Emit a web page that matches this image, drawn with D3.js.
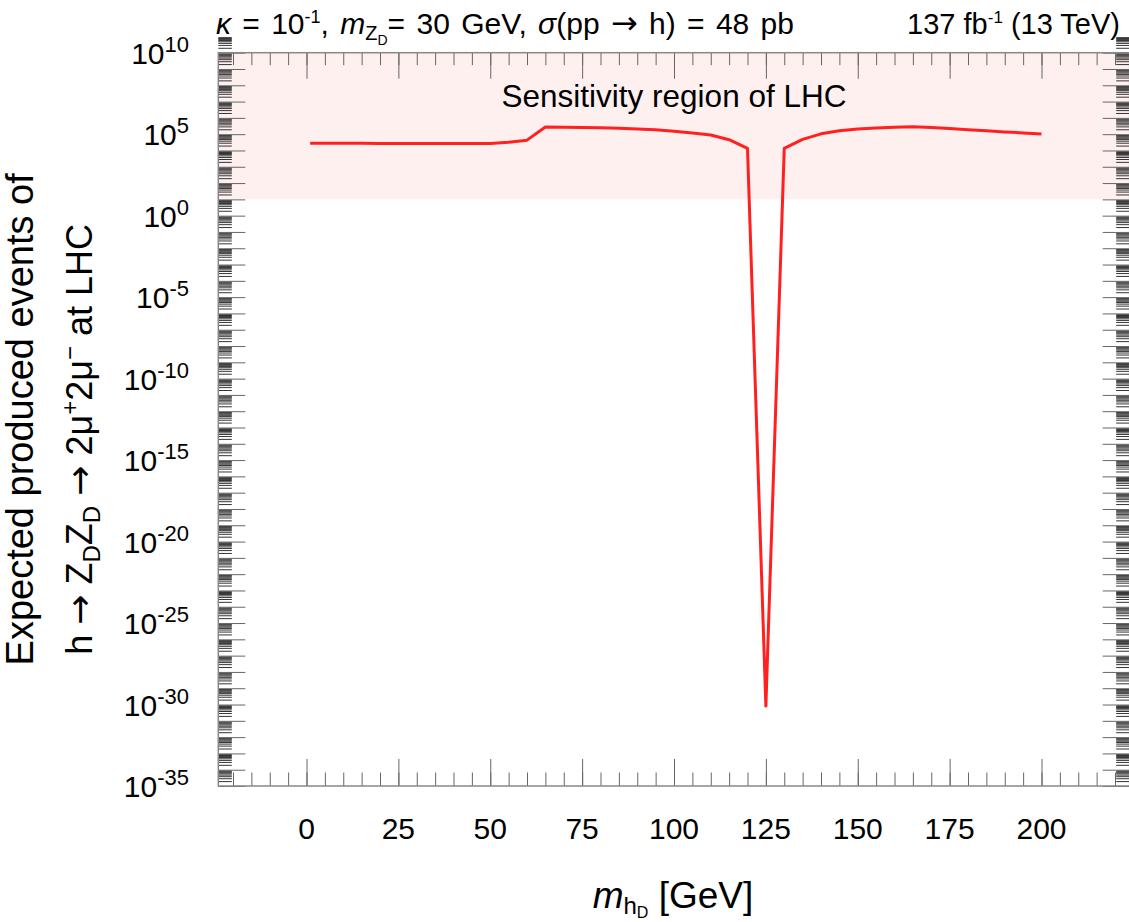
<!DOCTYPE html>
<html>
<head>
<meta charset="utf-8">
<script src="https://cdn.jsdelivr.net/npm/d3@7"></script>
<style>
  body { margin: 0; background: #fff; }
  svg { display: block; font-family: "Liberation Sans", Arial, sans-serif; }
  .arr { font-family: "DejaVu Sans", sans-serif; }
</style>
</head>
<body>
<svg id="chart"></svg>
<script>
// m_hD values (GeV) and expected events
const massGeV = [1, 5, 10, 15, 20, 25, 30, 35, 40, 45, 50, 55, 60, 65, 70, 75, 80, 85, 90, 95, 100,
  105, 110, 115, 120, 125, 130, 135, 140, 145, 150, 155, 160, 165, 170, 175, 180, 185, 190, 195, 200];
const expectedEvents = [2.75e4, 2.75e4, 2.75e4, 2.75e4, 2.7e4, 2.65e4, 2.65e4, 2.65e4, 2.65e4, 2.65e4, 2.65e4,
  3.2e4, 4.3e4, 2.75e5, 2.7e5, 2.6e5, 2.5e5, 2.3e5, 2.1e5, 1.85e5, 1.5e5,
  1.2e5, 8.9e4, 4.6e4, 1.35e4, 8e-31, 1.35e4, 4.8e4, 1.05e5, 1.6e5, 2.05e5, 2.4e5, 2.7e5, 2.9e5,
  2.55e5, 2.2e5, 1.9e5, 1.62e5, 1.38e5, 1.2e5, 1.02e5];

const xTicks = [0, 25, 50, 75, 100, 125, 150, 175, 200];
const yExponents = [10, 5, 0, -5, -10, -15, -20, -25, -30, -35];
const sensitivityMin = 10; // LHC sensitivity: at least 10 events

const W = 1129, H = 922;
const svg = d3.select('#chart').attr('width', W).attr('height', H);

const x = d3.scaleLinear().domain([-24, 224]).range([218.3, 1129.7]);
const y = d3.scaleLog().domain([1e-35, 1e10]).range([786, 52.7]);

const x0 = x.range()[0], x1 = x.range()[1];
const yTop = y.range()[1], yBot = y.range()[0];

// sensitivity band
svg.append('rect')
  .attr('x', x0).attr('y', yTop)
  .attr('width', x1 - x0).attr('height', y(sensitivityMin) - yTop)
  .attr('fill', '#fff0f0');

svg.append('text')
  .attr('x', 674).attr('y', 107)
  .attr('text-anchor', 'middle')
  .attr('font-size', 31.5)
  .text('Sensitivity region of LHC');

// ticks (all pointing inward)
const minorX = d3.range(-20, 225, 5);
const decades = d3.range(-35, 11);
const minorY = [];
decades.forEach(n => { for (let k = 2; k <= 9; k++) minorY.push(k * Math.pow(10, n)); });
const majorY = decades.map(n => Math.pow(10, n));

function styleAxis(g, color) {
  g.select('.domain').remove();
  g.selectAll('line').attr('stroke', color).attr('stroke-width', 1);
}

svg.append('g').attr('transform', `translate(0,${yBot})`)
  .call(d3.axisBottom(x).tickValues(minorX).tickSize(-13.5).tickFormat(''))
  .call(g => styleAxis(g, '#666'));
svg.append('g').attr('transform', `translate(0,${yBot})`)
  .call(d3.axisBottom(x).tickValues(xTicks).tickSize(-27).tickFormat(''))
  .call(g => styleAxis(g, '#666'));
svg.append('g').attr('transform', `translate(0,${yTop})`)
  .call(d3.axisTop(x).tickValues(minorX).tickSize(-12.5).tickFormat(''))
  .call(g => styleAxis(g, '#666'));
svg.append('g').attr('transform', `translate(0,${yTop})`)
  .call(d3.axisTop(x).tickValues(xTicks).tickSize(-26).tickFormat(''))
  .call(g => styleAxis(g, '#666'));

svg.append('g').attr('transform', `translate(${x0},0)`)
  .call(d3.axisLeft(y).tickValues(minorY).tickSize(-13.5).tickFormat(''))
  .call(g => styleAxis(g, '#333'));
svg.append('g').attr('transform', `translate(${x0},0)`)
  .call(d3.axisLeft(y).tickValues(majorY).tickSize(-27).tickFormat(''))
  .call(g => styleAxis(g, '#666'));
svg.append('g').attr('transform', `translate(${x1},0)`)
  .call(d3.axisRight(y).tickValues(minorY).tickSize(-13.5).tickFormat(''))
  .call(g => styleAxis(g, '#333'));
svg.append('g').attr('transform', `translate(${x1},0)`)
  .call(d3.axisRight(y).tickValues(majorY).tickSize(-27).tickFormat(''))
  .call(g => styleAxis(g, '#666'));

// frame
svg.append('rect')
  .attr('x', x0).attr('y', yTop)
  .attr('width', x1 - x0).attr('height', yBot - yTop)
  .attr('fill', 'none').attr('stroke', '#888').attr('stroke-width', 1.5);

// tick labels
svg.append('g').selectAll('text').data(xTicks).enter().append('text')
  .attr('x', d => x(d)).attr('y', 839)
  .attr('text-anchor', 'middle').attr('font-size', 30)
  .text(d => d);

const yLab = svg.append('g').selectAll('text').data(yExponents).enter().append('text')
  .attr('x', 189).attr('y', d => y(Math.pow(10, d)) + 11)
  .attr('text-anchor', 'end').attr('font-size', 30);
yLab.append('tspan').text('10');
yLab.append('tspan').attr('font-size', 22).attr('dy', -12).text(d => d);

// curve
const line = d3.line().x(d => x(d[0])).y(d => y(d[1]));
svg.append('path')
  .datum(massGeV.map((m, i) => [m, expectedEvents[i]]))
  .attr('d', line)
  .attr('fill', 'none').attr('stroke', '#ff2020').attr('stroke-width', 3)
  .attr('stroke-linejoin', 'round');

// header texts
const head = svg.append('text').attr('x', 216).attr('y', 34).attr('font-size', 30)
  .attr('word-spacing', 3);
head.append('tspan').attr('font-style', 'italic').text('κ');
head.append('tspan').text(' = 10');
head.append('tspan').attr('font-size', 18).attr('dy', -11).text('-1');
head.append('tspan').attr('dy', 11).text(', ');
head.append('tspan').attr('font-style', 'italic').text('m');
head.append('tspan').attr('font-size', 20).attr('dy', 6).text('Z');
head.append('tspan').attr('font-size', 14).attr('dy', 5).text('D');
head.append('tspan').attr('dy', -11).text('= 30 GeV, ');
head.append('tspan').attr('font-style', 'italic').text('σ');
head.append('tspan').text('(pp ');
head.append('tspan').attr('class', 'arr').attr('font-size', 32).text('→');
head.append('tspan').text(' h) = 48 pb');

const lumi = svg.append('text').attr('x', 1120).attr('y', 34).attr('font-size', 29).attr('text-anchor', 'end');
lumi.append('tspan').text('137 fb');
lumi.append('tspan').attr('font-size', 17).attr('dy', -11).text('-1');
lumi.append('tspan').attr('dy', 11).text(' (13 TeV)');

// axis titles
const xt = svg.append('text').attr('x', 673).attr('y', 908).attr('text-anchor', 'middle').attr('font-size', 37);
xt.append('tspan').attr('font-style', 'italic').text('m');
xt.append('tspan').attr('font-size', 24).attr('dy', 6).text('h');
xt.append('tspan').attr('font-size', 16).attr('dy', 4).text('D');
xt.append('tspan').attr('dy', -10).text(' [GeV]');

const cy = (yTop + yBot) / 2;
svg.append('text')
  .attr('transform', `translate(33,${cy}) rotate(-90)`)
  .attr('text-anchor', 'middle').attr('font-size', 38)
  .text('Expected produced events of');

const yt = svg.append('text')
  .attr('transform', `translate(92,${cy + 20}) rotate(-90)`)
  .attr('text-anchor', 'middle').attr('font-size', 36);
yt.append('tspan').text('h ');
yt.append('tspan').attr('class', 'arr').text('→');
yt.append('tspan').text(' Z');
yt.append('tspan').attr('font-size', 24).attr('dy', 8).text('D');
yt.append('tspan').attr('dy', -8).text('Z');
yt.append('tspan').attr('font-size', 24).attr('dy', 8).text('D');
yt.append('tspan').attr('dy', -8).text(' ');
yt.append('tspan').attr('class', 'arr').text('→');
yt.append('tspan').text(' 2μ');
yt.append('tspan').attr('font-size', 24).attr('dy', -14).text('+');
yt.append('tspan').attr('dy', 14).text('2μ');
yt.append('tspan').attr('font-size', 24).attr('dy', -14).text('−');
yt.append('tspan').attr('dy', 14).text(' at LHC');
</script>
</body>
</html>
